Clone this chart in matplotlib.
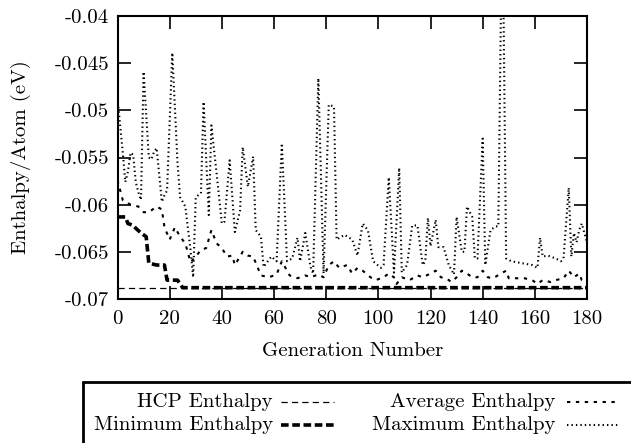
import numpy as np
import matplotlib
matplotlib.use('Agg')
import matplotlib.pyplot as plt
from matplotlib.patches import Rectangle
from matplotlib.lines import Line2D

plt.rcParams['font.family'] = 'serif'
plt.rcParams['font.serif'] = ['cmr10', 'DejaVu Serif']
plt.rcParams['axes.unicode_minus'] = False
plt.rcParams['lines.scale_dashes'] = False

# data
hcp_enthalpy = -0.0688

max_gen = [0, 2, 3, 4, 5, 6, 7, 8, 9, 10, 12, 13, 14, 15, 17, 18, 19, 21, 23, 24,
           26, 28, 29, 30, 32, 33, 35, 36, 38, 40, 41, 43, 45, 47, 48, 50, 52, 53, 55, 56,
           59, 61, 63, 65, 67, 69, 70, 72, 74, 75, 77, 79, 81, 83, 84, 87, 90, 92, 94, 96,
           98, 101, 102, 104, 106, 108, 109, 111, 113, 115, 117, 118, 119, 120, 122, 123, 125, 127, 129, 130,
           132, 133, 134, 136, 137, 138, 140, 141, 143, 145, 146, 147, 148, 149, 151, 155, 159, 161, 162, 163,
           165, 168, 170, 171, 173, 174, 175, 176, 177, 178, 180]
max_val = [-0.0487, -0.0544, -0.0576, -0.0565, -0.0545, -0.0547, -0.0576, -0.0587, -0.0595, -0.0459,
           -0.0550, -0.0552, -0.0544, -0.0540, -0.0597, -0.0590, -0.0585, -0.0439, -0.0555, -0.0592,
           -0.0602, -0.0648, -0.0677, -0.0592, -0.0588, -0.0491, -0.0611, -0.0516, -0.0567, -0.0620,
           -0.0618, -0.0553, -0.0629, -0.0606, -0.0539, -0.0581, -0.0549, -0.0627, -0.0634, -0.0666,
           -0.0655, -0.0660, -0.0535, -0.0660, -0.0657, -0.0635, -0.0660, -0.0630, -0.0666, -0.0673,
           -0.0466, -0.0673, -0.0494, -0.0496, -0.0637, -0.0632, -0.0637, -0.0654, -0.0620, -0.0627,
           -0.0660, -0.0667, -0.0664, -0.0571, -0.0672, -0.0561, -0.0672, -0.0664, -0.0622, -0.0622,
           -0.0664, -0.0660, -0.0614, -0.0644, -0.0616, -0.0645, -0.0645, -0.0664, -0.0674, -0.0613,
           -0.0650, -0.0650, -0.0602, -0.0613, -0.0657, -0.0657, -0.0530, -0.0664, -0.0627, -0.0623,
           -0.0623, -0.0395, -0.0395, -0.0657, -0.0660, -0.0662, -0.0664, -0.0667, -0.0635, -0.0655,
           -0.0654, -0.0657, -0.0660, -0.0657, -0.0582, -0.0655, -0.0630, -0.0640, -0.0627, -0.0620,
           -0.0640]

avg_gen = [0, 2, 5, 8, 10, 12, 15, 17, 18, 20, 22, 24, 26, 28, 30, 32, 34, 36, 38, 40,
           42, 44, 45, 48, 50, 52, 55, 58, 61, 63, 66, 69, 72, 74, 77, 79, 81, 83, 85, 88,
           90, 92, 94, 97, 99, 102, 104, 106, 107, 109, 112, 115, 117, 120, 122, 124, 126, 128, 130, 132,
           134, 136, 138, 140, 142, 144, 147, 149, 150, 153, 156, 159, 161, 163, 166, 168, 171, 173, 175, 177,
           178, 180]
avg_val = [-0.0574, -0.0595, -0.0600, -0.0602, -0.0608, -0.0608, -0.0602, -0.0605, -0.0624, -0.0637,
           -0.0624, -0.0634, -0.0641, -0.0661, -0.0655, -0.0648, -0.0646, -0.0627, -0.0641, -0.0646,
           -0.0655, -0.0654, -0.0664, -0.0650, -0.0654, -0.0655, -0.0675, -0.0677, -0.0674, -0.0660,
           -0.0675, -0.0678, -0.0675, -0.0677, -0.0674, -0.0677, -0.0664, -0.0660, -0.0667, -0.0664,
           -0.0673, -0.0667, -0.0670, -0.0677, -0.0680, -0.0677, -0.0673, -0.0677, -0.0684, -0.0677,
           -0.0680, -0.0675, -0.0677, -0.0673, -0.0670, -0.0677, -0.0678, -0.0682, -0.0677, -0.0670,
           -0.0673, -0.0677, -0.0677, -0.0670, -0.0677, -0.0678, -0.0673, -0.0670, -0.0678, -0.0678,
           -0.0678, -0.0680, -0.0684, -0.0680, -0.0682, -0.0680, -0.0678, -0.0670, -0.0677, -0.0673,
           -0.0680, -0.0682]

min_gen = [0, 3, 4, 6, 7, 9, 11, 12, 15, 18, 19, 23, 25, 180]
min_val = [-0.0613, -0.0613, -0.0620, -0.0622, -0.0625, -0.0630, -0.0634, -0.0662, -0.0664, -0.0664,
           -0.0680, -0.0680, -0.0688, -0.0688]

legend_labels = ['HCP Enthalpy', 'Minimum Enthalpy', 'Average Enthalpy', 'Maximum Enthalpy']

W, H = 631, 443
FS = 15
fig = plt.figure(figsize=(W / 100, H / 100), dpi=100)
ax = fig.add_axes([117.5 / W, 1 - 299 / H, (587 - 117.5) / W, (299 - 16) / H])

# styles: hcp, min, avg, max
styles = [
    dict(color='black', lw=0.9, ls=(0, (4.5, 3.0))),
    dict(color='black', lw=2.6, ls=(0, (5.5, 2.6))),
    dict(color='black', lw=1.5, ls=(0, (2.4, 4.0))),
    dict(color='black', lw=1.5, ls=(0, (1.0, 2.2))),
]

ax.axhline(hcp_enthalpy, **styles[0])
ax.plot(min_gen, min_val, **styles[1])
ax.plot(avg_gen, avg_val, **styles[2])
ax.plot(max_gen, max_val, **styles[3])

ax.set_xlim(0, 180)
ax.set_ylim(-0.07, -0.04)
ax.set_xticks(np.arange(0, 181, 20))
ax.set_yticks(np.arange(-0.07, -0.0399, 0.005))
ax.yaxis.set_major_formatter(matplotlib.ticker.FormatStrFormatter('%g'))
ax.tick_params(direction='in', length=9.5, width=1.2, top=True, right=True,
               labelsize=FS, pad=6)
ax.tick_params(axis='x', pad=8)
for s in ax.spines.values():
    s.set_linewidth(1.5)

ax.set_xlabel('Generation Number', fontsize=FS, labelpad=10)
ax.set_ylabel('Enthalpy/Atom (eV)', fontsize=FS, labelpad=17)


# legend drawn by hand, like the gnuplot key box
def fx(px):
    return px / W


def fy(py):
    return 1 - py / H


fig.patches.append(Rectangle((fx(83), fy(460)), fx(700) - fx(83), fy(382) - fy(460),
                             transform=fig.transFigure, fill=False, lw=2.0, ec='black'))
cols = [(273, 281, 334), (555, 567, 620)]
rows = [402, 425]
order = [(0, 0), (0, 1), (1, 0), (1, 1)]
for (c, r), lab, st in zip(order, legend_labels, styles):
    tx, x0, x1 = cols[c]
    y = rows[r]
    fig.text(fx(tx), fy(y), lab, ha='right', va='center', fontsize=FS)
    fig.lines.append(Line2D([fx(x0), fx(x1)], [fy(y), fy(y)], transform=fig.transFigure, **st))

fig.savefig('out.png', dpi=100)
